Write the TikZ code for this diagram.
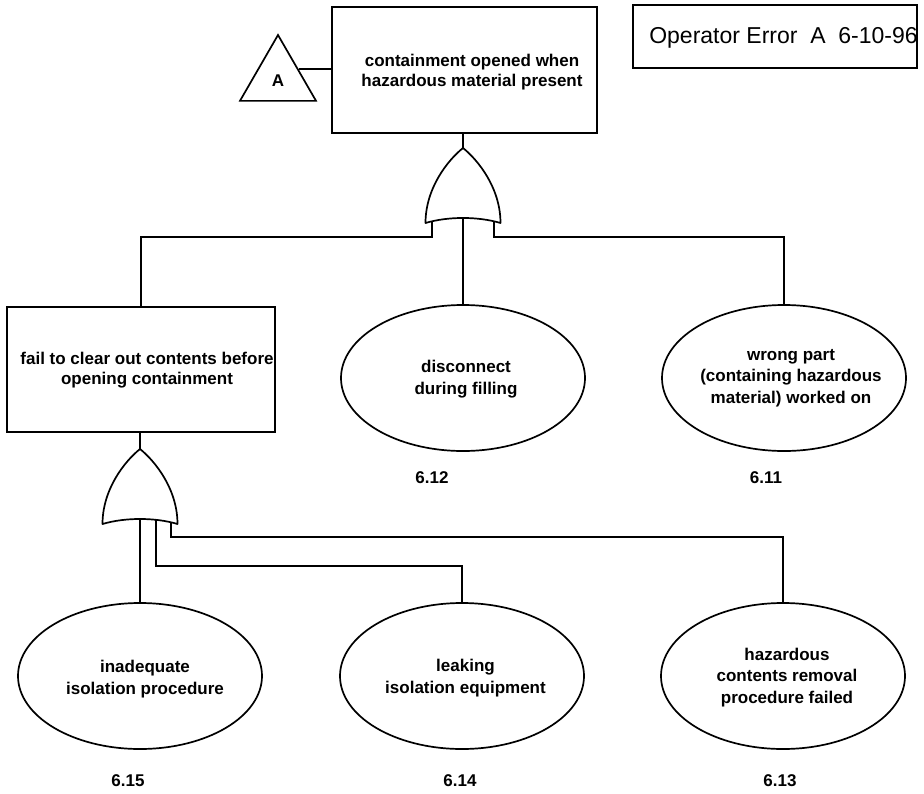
\documentclass[tikz,border=0pt]{standalone}
\usepackage{fontspec}
\setmainfont{Liberation Sans}
\usetikzlibrary{shapes.geometric,calc}
\tikzset{
  conn/.style={line width=1.7pt},
  evtbox/.style={draw, line width=1.7pt, rectangle, inner sep=0pt},
  basicev/.style={draw, line width=1.7pt, ellipse, minimum width=244pt, minimum height=146pt, inner sep=0pt},
  txt/.style={font=\bfseries\fontsize{17}{20}\selectfont, align=center, inner sep=0pt},
  etxt/.style={font=\bfseries\fontsize{17}{21.5}\selectfont, align=center, inner sep=0pt},
  num/.style={font=\bfseries\fontsize{17}{20}\selectfont, inner sep=0pt},
  pics/orgate/.style={code={
    \draw[line width=1.7pt, line join=round]
      (0,0) .. controls (-15,12) and (-37.5,40) .. (-37.5,75)
      .. controls (-15,68.3) and (15,68.3) .. (37.5,75)
      .. controls (37.5,40) and (15,12) .. (0,0) -- cycle;
    \coordinate (-apex) at (0,0);
    \coordinate (-in1) at (-31,73.2);
    \coordinate (-in2) at (0,70);
    \coordinate (-in3) at (16,70.8);
    \coordinate (-in4) at (31,73.2);
  }}
}
\begin{document}
\begin{tikzpicture}[x=1pt,y=-1pt]
\useasboundingbox (0,0) rectangle (924,793);

% title box
\node[evtbox, line width=2.8pt, minimum width=284pt, minimum height=63pt,
      label={[font=\fontsize{23}{27}\selectfont, inner sep=0pt, xshift=8.5pt, yshift=-1.5pt]center:Operator Error\ \ A\ \ 6-10-96}]
      (title) at (775,36.5) {};

% top event
\node[evtbox, minimum width=265pt, minimum height=126pt,
      label={[txt, xshift=7.5pt, yshift=-2pt]center:{containment opened when\\hazardous material present}}]
      (top) at (464.5,70) {};

% transfer triangle
\node[draw, line width=1.7pt, regular polygon, regular polygon sides=3,
      minimum size=87.8pt, inner sep=0pt] (tri) at (278,78.9) {};
\node[txt] (triA) at (278,81) {A};
\draw[conn] ($(tri.corner 1)!0.52!(tri.corner 3)$) coordinate (triR) -- (top.west |- triR);

% top OR gate
\pic (g1) at (463,148) {orgate};
\draw[conn] (g1-apex) -- (g1-apex |- top.south);

% intermediate event
\node[evtbox, minimum width=268pt, minimum height=125pt,
      label={[txt, xshift=6pt, yshift=-0.5pt]center:{fail to clear out contents before\\opening containment}}]
      (mid) at (141,369.5) {};

% basic events, first row
\node[basicev, label={[etxt, xshift=3pt, yshift=-1pt]center:{disconnect\\during filling}}]
      (e12) at (463,378) {};
\node[basicev, label={[etxt, xshift=7pt, yshift=0pt]center:{wrong part\\(containing hazardous\\material) worked on}}]
      (e11) at (784,378) {};
\node[num] (n12) at (432,478) {6.12};
\node[num] (n11) at (766,478) {6.11};

% bus coordinates
\coordinate (bus1) at (0,237);
\coordinate (bus2) at (0,537);
\coordinate (bus3) at (0,566);

\draw[conn] (g1-in1) -- (g1-in1 |- bus1) -| (mid.north);
\draw[conn] (g1-in2) -- (e12.north);
\draw[conn] (g1-in4) -- (g1-in4 |- bus1) -| (e11.north);

% bottom OR gate
\pic (g2) at (140,449) {orgate};
\draw[conn] (g2-apex) -- (g2-apex |- mid.south);

% basic events, second row
\node[basicev, label={[etxt, xshift=5pt, yshift=-3pt]center:{inadequate\\isolation procedure}}]
      (e15) at (140,676) {};
\node[basicev, label={[etxt, xshift=3.5pt, yshift=-2pt]center:{leaking\\isolation equipment}}]
      (e14) at (462,676) {};
\node[basicev, label={[etxt, xshift=4pt, yshift=-1.5pt]center:{hazardous\\contents removal\\procedure failed}}]
      (e13) at (783,676) {};
\node[num] (n15) at (128,781) {6.15};
\node[num] (n14) at (460,781) {6.14};
\node[num] (n13) at (780,781) {6.13};

\draw[conn] (g2-in2) -- (e15.north);
\draw[conn] (g2-in3) -- (g2-in3 |- bus3) -| (e14.north);
\draw[conn] (g2-in4) -- (g2-in4 |- bus2) -| (e13.north);
\end{tikzpicture}
\end{document}
